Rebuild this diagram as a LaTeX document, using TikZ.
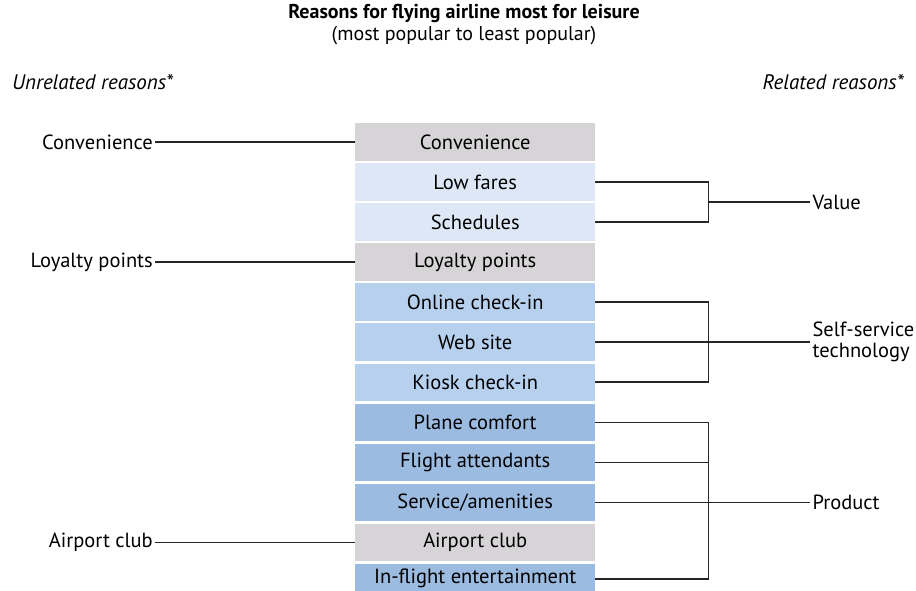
\documentclass[tikz,border=0pt]{standalone}
\usepackage{fontspec}
\setmainfont{PT Sans}
\usepackage{tikz}
\usetikzlibrary{positioning, calc}
\definecolor{rowgray}{HTML}{D6D4D6}
\definecolor{rowpale}{HTML}{DDE7F6}
\definecolor{rowmid}{HTML}{B6D0EE}
\definecolor{rowdeep}{HTML}{9CBBE1}
\tikzset{
    rowbox/.style={
        rectangle,
        fill=rowgray,
        minimum width=240pt,
        minimum height=37.5pt,
        inner sep=0pt,
        align=center,
        font=\fontsize{20.5}{21}\selectfont
    },
    sidetext/.style={
        inner sep=2pt,
        align=left,
        font=\fontsize{20.5}{21}\selectfont
    },
    headtext/.style={
        inner sep=0pt,
        font=\fontsize{21}{24}\selectfont\itshape
    },
    linkline/.style={
        line width=1.6pt,
        draw=black!85
    }
}

\begin{document}
\begin{tikzpicture}[x=1pt, y=-1pt, node distance=2.15pt]
    \useasboundingbox (0,0) rectangle (916,590);

    \node[align=center, font=\fontsize{20}{22}\selectfont] (title) at (464,25)
        {\textbf{Reasons for flying airline most for leisure}\\(most popular to least popular)};
    \node[headtext, anchor=west] (unrel) at (12,82) {Unrelated reasons*};
    \node[headtext, anchor=east] (rel) at (904,82) {Related reasons*};

    % ranked reasons
    \node[rowbox, anchor=north west] (conv) at (355,123) {Convenience};
    \node[rowbox, fill=rowpale, below=of conv] (low) {Low fares};
    \node[rowbox, fill=rowpale, below=of low] (sched) {Schedules};
    \node[rowbox, below=of sched] (loyal) {Loyalty points};
    \node[rowbox, fill=rowmid, below=of loyal] (online) {Online check-in};
    \node[rowbox, fill=rowmid, below=of online] (web) {Web site};
    \node[rowbox, fill=rowmid, below=of web] (kiosk) {Kiosk check-in};
    \node[rowbox, fill=rowdeep, below=of kiosk] (plane) {Plane comfort};
    \node[rowbox, fill=rowdeep, below=of plane] (flight) {Flight attendants};
    \node[rowbox, fill=rowdeep, below=of flight] (service) {Service/amenities};
    \node[rowbox, below=of service] (club) {Airport club};
    \node[rowbox, fill=rowdeep, minimum height=30pt, below=of club] (ife) {In-flight entertainment};

    % unrelated reasons
    \node[sidetext, left=200pt of conv] (convL) {Convenience};
    \node[sidetext, left=200pt of loyal] (loyalL) {Loyalty points};
    \node[sidetext, left=200pt of club] (clubL) {Airport club};

    \draw[linkline] (convL) -- (conv);
    \draw[linkline] (loyalL) -- (loyal);
    \draw[linkline] (clubL) -- (club);

    % related reasons
    \coordinate (valueM) at ($(low.east)!0.5!(sched.east)$);
    \coordinate[right=113pt of valueM] (valueJ);
    \coordinate[right=113pt of web.east] (techJ);
    \coordinate[right=113pt of service.east] (prodJ);
    \node[sidetext, right=215pt of valueM] (value) {Value};
    \node[sidetext, right=215pt of web.east] (tech) {Self-service\\technology};
    \node[sidetext, right=215pt of service.east] (product) {Product};

    \draw[linkline] (low.east) -- (low.east -| valueJ) -- (sched.east -| valueJ) -- (sched.east);
    \draw[linkline] (valueJ) -- (value);

    \draw[linkline] (online.east) -- (online.east -| techJ) -- (kiosk.east -| techJ) -- (kiosk.east);
    \draw[linkline] (web.east) -- (tech);

    \draw[linkline] (plane.east) -- (plane.east -| prodJ) -- (ife.east -| prodJ) -- (ife.east);
    \draw[linkline] (flight.east) -- (flight.east -| prodJ);
    \draw[linkline] (service.east) -- (product);
\end{tikzpicture}
\end{document}
